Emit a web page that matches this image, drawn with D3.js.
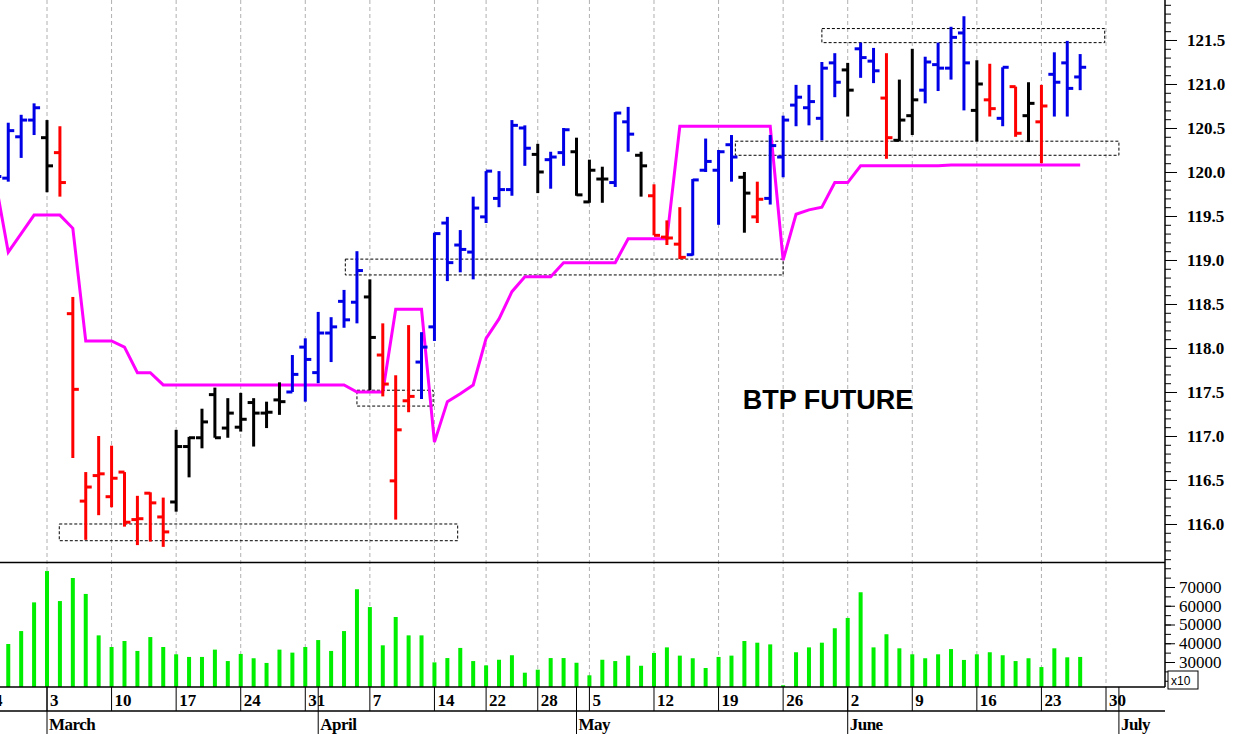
<!DOCTYPE html>
<html>
<head>
<meta charset="utf-8">
<script src="https://cdn.jsdelivr.net/npm/d3@7"></script>
<style>
  body { margin: 0; background: #fff; }
  svg { display: block; }
</style>
</head>
<body>
<svg id="chart" width="1236" height="734"></svg>
<script>
// trading days, Feb 25 .. Jun 26 (2014)
const days = ["02-25","02-26","02-27","02-28",
  "03-03","03-04","03-05","03-06","03-07","03-10","03-11","03-12","03-13","03-14",
  "03-17","03-18","03-19","03-20","03-21","03-24","03-25","03-26","03-27","03-28",
  "03-31","04-01","04-02","04-03","04-04","04-07","04-08","04-09","04-10","04-11",
  "04-14","04-15","04-16","04-17","04-22","04-23","04-24","04-25","04-28","04-29","04-30",
  "05-02","05-05","05-06","05-07","05-08","05-09","05-12","05-13","05-14","05-15","05-16",
  "05-19","05-20","05-21","05-22","05-23","05-26","05-27","05-28","05-29","05-30",
  "06-02","06-03","06-04","06-05","06-06","06-09","06-10","06-11","06-12","06-13",
  "06-16","06-17","06-18","06-19","06-20","06-23","06-24","06-25","06-26"];

const open = [120.00,119.93,120.40,120.59,
  120.39,120.22,118.39,116.26,116.55,116.31,116.59,116.05,116.35,116.08,
  116.25,116.88,116.98,117.47,117.09,117.10,117.38,117.26,117.41,117.50,
  118.01,117.72,118.17,118.53,118.52,118.58,117.92,116.49,117.40,117.84,
  118.24,119.42,119.17,119.09,119.49,119.70,119.80,120.50,120.20,120.14,120.22,
  120.23,119.66,119.92,119.88,120.57,120.19,119.73,119.26,119.18,119.06,120.02,
  120.02,120.31,119.94,119.49,119.70,120.17,120.76,120.73,120.61,121.24,
  121.16,121.40,121.26,120.84,120.36,120.64,120.93,121.22,121.18,121.58,
  120.70,120.82,120.61,120.97,120.64,120.57,121.11,121.24,121.08];
const high = [120.35,120.56,120.65,120.78,
  120.59,120.52,118.58,116.59,117.00,116.89,116.59,116.32,116.36,116.30,
  117.07,116.99,117.31,117.55,117.43,117.49,117.43,117.39,117.61,117.92,
  118.11,118.41,118.35,118.66,119.10,118.78,118.28,117.69,118.26,118.18,
  119.31,119.49,119.34,119.72,120.01,120.01,120.59,120.53,120.32,120.23,120.50,
  120.39,120.14,120.06,120.68,120.74,120.23,119.86,119.45,119.60,119.92,120.38,
  120.25,120.42,120.00,119.89,120.42,120.64,120.99,120.99,121.25,121.35,
  121.24,121.47,121.41,121.35,121.05,121.40,121.31,121.47,121.65,121.77,
  121.27,121.23,121.19,120.97,121.02,120.99,121.36,121.49,121.34];
const low = [119.90,119.89,120.16,120.42,
  119.77,119.72,116.75,115.82,116.10,116.19,115.97,115.76,115.80,115.74,
  116.14,116.53,116.86,116.98,116.98,117.05,116.88,117.09,117.24,117.50,
  117.39,117.60,117.84,118.23,118.28,117.52,117.45,116.05,117.27,117.42,
  118.08,118.76,118.86,118.78,119.42,119.60,119.73,120.07,119.76,119.81,120.07,
  119.73,119.65,119.65,119.83,120.23,119.72,119.28,119.17,119.01,119.05,120.00,
  119.40,119.89,119.31,119.42,119.63,119.94,120.52,120.53,120.36,120.85,
  120.63,121.07,121.01,120.15,120.35,120.42,120.78,120.92,121.05,120.70,
  120.35,120.63,120.52,120.40,120.34,120.10,120.63,120.63,120.93];
const close = [119.95,120.47,120.59,120.73,
  120.07,119.88,117.53,116.42,116.57,116.52,116.02,116.06,116.24,115.91,
  116.88,116.98,117.16,116.98,117.26,117.19,117.26,117.27,117.39,117.70,
  117.87,118.17,118.24,118.32,118.88,118.12,117.59,117.07,117.45,118.01,
  119.30,118.97,119.12,119.59,120.01,119.80,120.53,120.27,120.00,120.17,120.48,
  119.74,120.02,119.92,120.67,120.43,120.07,119.28,119.25,119.03,119.91,120.12,
  120.23,120.17,119.76,119.69,120.30,120.59,120.85,120.80,121.18,121.02,
  120.93,121.30,121.15,120.39,120.59,120.82,121.25,121.18,121.53,121.24,
  121.00,120.72,121.19,120.44,120.78,120.75,121.02,120.95,121.19];
// bar colour signal: b = blue, r = red, k = black
const signal = ["b","b","b","b",
  "k","r","r","r","r","r","r","r","r","r",
  "k","k","k","k","k","k","k","k","k","b",
  "b","b","b","b","b","k","r","r","r","b",
  "b","b","b","b","b","b","b","b","k","b","b",
  "k","k","k","b","b","k","r","r","r","b","b",
  "b","b","k","r","b","b","b","b","b","b",
  "k","b","b","r","k","k","b","b","b","b",
  "k","r","b","r","k","r","b","b","b"];
const volume = [35000,39600,46500,61800,
  78500,62500,74800,66300,44200,38000,41200,35900,43300,38000,
  34100,32700,32700,36600,30500,34300,32000,29500,36600,35000,
  38000,41700,35900,46500,68800,59300,38900,54000,44200,44200,
  29800,32100,37500,30500,28200,31200,33600,24300,25900,32100,32100,
  29600,22900,31200,30500,33400,28000,34800,37800,33400,32000,26800,
  32700,33400,41200,40300,39400,17600,35200,37800,40300,48000,
  53500,67200,37800,44800,37300,34100,32000,34100,36900,31100,
  34100,35200,33600,30500,32000,27300,37300,32500,32700];
const stopLine = [119.90,119.09,119.30,119.51,
  119.51,119.51,119.36,118.08,118.08,118.08,118.01,117.72,117.72,117.58,
  117.58,117.58,117.58,117.58,117.58,117.58,117.58,117.58,117.58,117.58,
  117.58,117.58,117.58,117.58,117.50,117.50,117.50,118.44,118.44,118.44,
  116.93,117.39,117.48,117.58,118.11,118.33,118.64,118.81,118.81,118.81,118.97,
  118.97,118.97,118.97,118.97,119.24,119.24,119.24,119.24,120.52,120.52,120.52,
  120.52,120.52,120.52,120.52,120.52,119.00,119.52,119.57,119.60,119.88,
  119.88,120.07,120.07,120.07,120.07,120.07,120.07,120.07,120.08,120.08,
  120.08,120.08,120.08,120.08,120.08,120.08,120.08,120.08,120.08];

// dotted zones: day position from / to, price from / to
const zones = [
  {i0: 4.95, i1: 35.8, p0: 116.00, p1: 115.81},
  {i0: 27.1, i1: 61.0, p0: 119.01, p1: 118.83},
  {i0: 28.0, i1: 33.9, p0: 117.52, p1: 117.34},
  {i0: 57.3, i1: 87.0, p0: 120.35, p1: 120.19},
  {i0: 64.0, i1: 85.9, p0: 121.63, p1: 121.47}
];

// week ticks (position, label) and months (position, label)
const weekTicks = [[-1,"24"],[4,"3"],[9,"10"],[14,"17"],[19,"24"],[24,"31"],[29,"7"],[34,"14"],
  [38,"22"],[42,"28"],[46,"5"],[51,"12"],[56,"19"],[61,"26"],[66,"2"],[71,"9"],[76,"16"],
  [81,"23"],[86,"30"]];
const months = [[4,"March"],[25,"April"],[45,"May"],[66,"June"],[87,"July"]];
const priceTicks = [116.0,116.5,117.0,117.5,118.0,118.5,119.0,119.5,120.0,120.5,121.0,121.5];
const volTicks = [30000,40000,50000,60000,70000];

const colorOf = {b: "#0000e6", r: "#ff0000", k: "#000000"};

const svg = d3.select("#chart");
const axisX = 1165;

// x: position in trading days
const x = d3.scaleLinear().domain([4, 86]).range([47, 1106]);
const xd = (d, i) => x(i);
const y = d3.scaleLinear().domain([115.568, 121.9545]).range([562, 0]);
const yv = d3.scaleLinear().domain([16667, 82800]).range([687, 563]);

// vertical dashed grid lines
svg.append("g").selectAll("line")
  .data(weekTicks)
  .enter().append("line")
  .attr("x1", d => x(d[0])).attr("x2", d => x(d[0]))
  .attr("y1", 0).attr("y2", 687)
  .attr("stroke", "#b0b0b0").attr("stroke-dasharray", "4,3");

// dotted zones
svg.append("g").selectAll("rect")
  .data(zones)
  .enter().append("rect")
  .attr("x", d => x(d.i0)).attr("width", d => x(d.i1) - x(d.i0))
  .attr("y", d => y(d.p0)).attr("height", d => y(d.p1) - y(d.p0))
  .attr("fill", "none").attr("stroke", "#000").attr("stroke-dasharray", "3,2");

// stop line
svg.append("path")
  .datum(stopLine)
  .attr("d", d3.line().x(xd).y(d => y(d)))
  .attr("fill", "none").attr("stroke", "#ff00ff").attr("stroke-width", 3);

// OHLC bars
const bars = svg.append("g").selectAll("g")
  .data(days)
  .enter().append("g")
  .attr("stroke", (d, i) => colorOf[signal[i]])
  .attr("stroke-width", 3);
bars.append("line")
  .attr("x1", xd).attr("x2", xd)
  .attr("y1", (d, i) => y(high[i])).attr("y2", (d, i) => y(low[i]));
bars.append("line")
  .attr("x1", (d, i) => x(i) - 6).attr("x2", xd)
  .attr("y1", (d, i) => y(open[i])).attr("y2", (d, i) => y(open[i]));
bars.append("line")
  .attr("x1", xd).attr("x2", (d, i) => x(i) + 6)
  .attr("y1", (d, i) => y(close[i])).attr("y2", (d, i) => y(close[i]));

// title
svg.append("text")
  .attr("x", 828).attr("y", 409)
  .attr("text-anchor", "middle")
  .attr("font-family", "Liberation Sans, Arial, sans-serif")
  .attr("font-weight", "bold").attr("font-size", 27)
  .text("BTP FUTURE");

// volume bars
svg.append("g").selectAll("rect")
  .data(volume)
  .enter().append("rect")
  .attr("x", (d, i) => x(i) - 2).attr("width", 4)
  .attr("y", d => yv(d)).attr("height", d => 687 - yv(d))
  .attr("fill", "#00ee00");

// frame lines
const frame = svg.append("g").attr("stroke", "#000").attr("stroke-width", 1.5);
frame.append("line").attr("x1", axisX).attr("x2", axisX).attr("y1", 0).attr("y2", 687);
frame.append("line").attr("x1", 0).attr("x2", axisX).attr("y1", 562.5).attr("y2", 562.5);
frame.append("line").attr("x1", 0).attr("x2", axisX).attr("y1", 687).attr("y2", 687);
frame.append("line").attr("x1", 0).attr("x2", axisX).attr("y1", 711).attr("y2", 711);

// price axis
const priceAxis = d3.axisRight(y)
  .tickValues(d3.range(1156, 1220).map(v => v / 10))
  .tickSize(6).tickFormat("");
svg.append("g").attr("transform", `translate(${axisX},0)`).call(priceAxis)
  .call(g => g.select(".domain").remove());
svg.append("g").attr("transform", `translate(${axisX},0)`)
  .call(d3.axisRight(y).tickValues(priceTicks).tickSize(12).tickPadding(10).tickFormat(d3.format(".1f")))
  .call(g => g.select(".domain").remove())
  .call(g => g.selectAll("text").attr("font-family", "Liberation Serif, Times New Roman, serif")
    .attr("font-weight", "bold").attr("font-size", 17));

// volume axis
svg.append("g").attr("transform", `translate(${axisX},0)`)
  .call(d3.axisRight(yv).tickValues(d3.range(20000, 85000, 5000)).tickSize(6).tickFormat(""))
  .call(g => g.select(".domain").remove());
svg.append("g").attr("transform", `translate(${axisX},0)`)
  .call(d3.axisRight(yv).tickValues(volTicks).tickSize(10).tickPadding(4).tickFormat(d3.format("d")))
  .call(g => g.select(".domain").remove())
  .call(g => g.selectAll("text").attr("font-family", "Liberation Serif, Times New Roman, serif")
    .attr("font-size", 17));
svg.append("rect").attr("x", axisX + 3).attr("y", 671).attr("width", 30).attr("height", 18)
  .attr("fill", "#fff").attr("stroke", "#000");
svg.append("text").attr("x", axisX + 6).attr("y", 685)
  .attr("font-family", "Liberation Sans, Arial, sans-serif").attr("font-size", 12).text("x10");

// date row
const wk = svg.append("g");
wk.selectAll("line").data(weekTicks).enter().append("line")
  .attr("x1", d => x(d[0])).attr("x2", d => x(d[0]))
  .attr("y1", 687).attr("y2", 711).attr("stroke", "#000");
wk.selectAll("text").data(weekTicks).enter().append("text")
  .attr("x", d => x(d[0]) + 3).attr("y", 706)
  .attr("font-family", "Liberation Serif, Times New Roman, serif")
  .attr("font-weight", "bold").attr("font-size", 17)
  .text(d => d[1]);

// month row
const mo = svg.append("g");
mo.selectAll("line").data(months).enter().append("line")
  .attr("x1", d => x(d[0])).attr("x2", d => x(d[0]))
  .attr("y1", 687).attr("y2", 734).attr("stroke", "#000");
mo.selectAll("text").data(months).enter().append("text")
  .attr("x", d => x(d[0]) + 2).attr("y", 730)
  .attr("font-family", "Liberation Serif, Times New Roman, serif")
  .attr("font-weight", "bold").attr("font-size", 17).attr("letter-spacing", -0.5)
  .text(d => d[1]);
</script>
</body>
</html>
